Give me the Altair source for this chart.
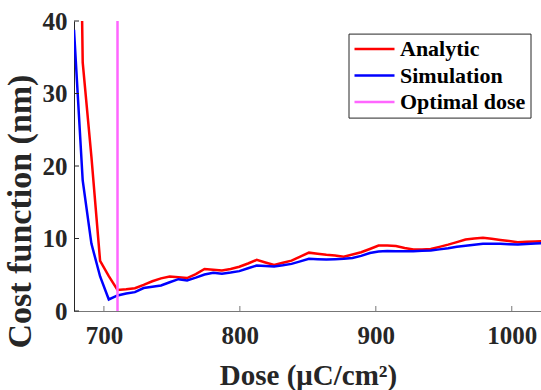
import altair as alt
import pandas as pd

# Dose grid (µC/cm²)
dose = [678.0, 684.4, 690.8, 697.2, 703.6, 710.0, 716.4, 722.8, 729.2, 735.6,
        742.0, 748.4, 754.8, 761.2, 767.6, 774.0, 780.4, 786.8, 793.2, 799.6,
        806.0, 812.4, 818.8, 825.2, 831.6, 838.0, 844.4, 850.8, 857.2, 863.6,
        870.0, 876.4, 882.8, 889.2, 895.6, 902.0, 908.4, 914.8, 921.2, 927.6,
        934.0, 940.4, 946.8, 953.2, 959.6, 966.0, 972.4, 978.8, 985.2, 991.6,
        998.0, 1004.4, 1010.8, 1017.2, 1023.6]

analytic = [120.0, 34.3, 21.3, 6.9, 4.8, 2.9, 3.0, 3.15, 3.6, 4.1,
            4.5, 4.75, 4.65, 4.55, 5.1, 5.8, 5.7, 5.6, 5.8, 6.1,
            6.55, 7.05, 6.7, 6.35, 6.65, 6.95, 7.5, 8.05, 7.9, 7.75,
            7.65, 7.5, 7.8, 8.1, 8.55, 9.03, 9.03, 8.95, 8.7, 8.5,
            8.5, 8.55, 8.85, 9.15, 9.5, 9.85, 10.0, 10.1, 9.95, 9.8,
            9.65, 9.5, 9.55, 9.6, 9.65]

simulation = [38.8, 18.0, 9.3, 4.76, 1.59, 2.14, 2.4, 2.6, 3.17, 3.35,
              3.52, 3.97, 4.39, 4.21, 4.6, 5.03, 5.27, 5.13, 5.3, 5.5,
              5.9, 6.28, 6.2, 6.14, 6.3, 6.5, 6.85, 7.2, 7.15, 7.1,
              7.15, 7.2, 7.3, 7.6, 8.0, 8.2, 8.27, 8.25, 8.25, 8.25,
              8.3, 8.34, 8.5, 8.66, 8.85, 9.0, 9.15, 9.27, 9.27, 9.27,
              9.22, 9.17, 9.25, 9.3, 9.35]

optimal_dose = [710.0]

series_names = ["Analytic", "Simulation", "Optimal dose"]
series_colors = ["#ff0000", "#0000ff", "#ff66ff"]
series_widths = [2.5, 2.5, 1.5]

x_ticks = [700, 800, 900, 1000]
y_ticks = [0, 10, 20, 30, 40]

FONT = "Liberation Serif"

lines_df = pd.concat([
    pd.DataFrame({"dose": dose, "value": analytic, "series": "Analytic", "order": 0}),
    pd.DataFrame({"dose": dose, "value": simulation, "series": "Simulation", "order": 1}),
])
rule_df = pd.DataFrame({"dose": optimal_dose, "series": ["Optimal dose"]})
xt_df = pd.DataFrame({"dose": x_ticks})
yt_df = pd.DataFrame({"value": y_ticks})

xscale = alt.Scale(domain=[678, 1021.5], nice=False, zero=False)
yscale = alt.Scale(domain=[0, 40], nice=False)
color = alt.Color("series:N",
                  scale=alt.Scale(domain=series_names, range=series_colors),
                  legend=alt.Legend(title=None, orient="none", legendX=274.5, legendY=12.6,
                                    symbolType="stroke", symbolSize=1600, clipHeight=22,
                                    labelFont=FONT, labelFontSize=22, labelFontWeight="bold",
                                    labelColor="black", labelOffset=4, padding=4.5,
                                    rowPadding=4.5, strokeColor="#262626", fillColor="white",
                                    cornerRadius=0, labelLimit=300))
sw = alt.StrokeWidth("series:N",
                     scale=alt.Scale(domain=series_names, range=series_widths),
                     legend=alt.Legend(title=None))

x_axis = alt.Axis(values=x_ticks, format="d", ticks=False, tickSize=0, grid=False,
                  labelFont=FONT, labelFontSize=25,
                  labelFontWeight="bold", labelColor="#262626", labelBaseline="alphabetic",
                  labelPadding=32, labelFlush=False, labelOverlap=False,
                  domainColor="#777777", domainWidth=1,
                  title="Dose (μC/cm²)", titleFont=FONT, titleFontSize=29,
                  titleFontWeight="bold", titleColor="#262626",
                  titleX=234, titleY=73, titleBaseline="alphabetic", titleAlign="center")
y_axis = alt.Axis(values=y_ticks, ticks=False, tickSize=0, grid=False,
                  labelFont=FONT, labelFontSize=25,
                  labelFontWeight="bold", labelColor="#262626", labelBaseline="middle",
                  labelPadding=7, labelOverlap=False, labelFlush=False,
                  domainColor="#262626", domainWidth=1,
                  title="Cost function (nm)", titleFont=FONT, titleFontSize=34,
                  titleFontWeight="bold", titleColor="#262626",
                  titleAngle=270, titleX=-37, titleY=190, titleBaseline="bottom",
                  titleAlign="center")

X = alt.X("dose:Q", scale=xscale, axis=x_axis)
Y = alt.Y("value:Q", scale=yscale, axis=y_axis)

lines = alt.Chart(lines_df).mark_line(clip=True).encode(
    x=X, y=Y,
    color=color,
    strokeWidth=sw,
    detail="series:N",
    order="order:Q",
)

rule = alt.Chart(rule_df).mark_rule(clip=True).encode(
    x=X,
    color=color,
    strokeWidth=sw,
)

xticks = alt.Chart(xt_df).mark_rule(color="#777777", strokeWidth=1).encode(
    x=X,
    y=alt.value(290), y2=alt.value(285),
)
yticks = alt.Chart(yt_df).mark_rule(color="#262626", strokeWidth=1).encode(
    y=Y,
    x=alt.value(0), x2=alt.value(5),
)

chart = alt.layer(lines, rule, xticks, yticks).properties(
    width=467, height=290,
    autosize=alt.AutoSizeParams(type="none"),
    padding={"left": 74, "top": 21, "right": 0, "bottom": 79},
    background="white",
).configure_view(stroke=None)

chart.save("out.html", embed_options={"renderer": "svg", "actions": False})
